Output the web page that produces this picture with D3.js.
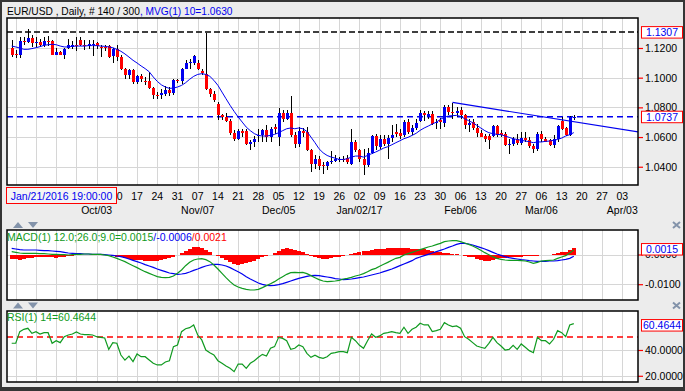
<!DOCTYPE html>
<html><head><meta charset="utf-8">
<script src="https://cdn.jsdelivr.net/npm/d3@7/dist/d3.min.js"></script>
<style>
html,body{margin:0;padding:0;background:#ececec;}
svg{display:block;font-family:"Liberation Sans",Arial,sans-serif;}
</style></head><body>
<svg id="c" width="685" height="391"></svg>
<script>
// ---------------- DATA ----------------
const firstDay = "2016-09-02";      // first trading day shown (bars are Mon-Fri)
const open = [1.1200,1.1162,1.1152,1.1247,1.1240,1.1268,1.1236,1.1241,1.1218,1.1245,
1.1245,1.1155,1.1175,1.1155,1.1200,1.1205,1.1220,1.1252,1.1223,1.1214,
1.1223,1.1234,1.1210,1.1210,1.1214,1.1144,1.1196,1.1140,1.1061,1.1016,
1.1050,1.0971,1.1012,1.0975,1.0975,1.0933,1.0885,1.0881,1.0890,1.0915,
1.0897,1.0982,1.0975,1.1061,1.1101,1.1101,1.1101,1.1045,1.1025,1.0926,
1.0892,1.0825,1.0746,1.0735,1.0710,1.0629,1.0584,1.0640,1.0638,1.0550,
1.0566,1.0610,1.0611,1.0649,1.0600,1.0667,1.0600,1.0762,1.0722,1.0760,
1.0616,1.0555,1.0640,1.0633,1.0516,1.0420,1.0453,1.0410,1.0403,1.0437,
1.0440,1.0455,1.0455,1.0460,1.0420,1.0566,1.0515,1.0453,1.0409,1.0490,
1.0605,1.0533,1.0584,1.0555,1.0595,1.0633,1.0625,1.0611,1.0701,1.0633,
1.0660,1.0705,1.0764,1.0735,1.0755,1.0695,1.0712,1.0695,1.0802,1.0768,
1.0760,1.0780,1.0746,1.0680,1.0701,1.0660,1.0629,1.0606,1.0606,1.0606,
1.0674,1.0625,1.0622,1.0550,1.0555,1.0588,1.0561,1.0593,1.0577,1.0543,
1.0518,1.0622,1.0584,1.0577,1.0548,1.0584,1.0705,1.0660,1.0616,1.0735];
const high = [1.1252,1.1185,1.1274,1.1274,1.1330,1.1286,1.1274,1.1263,1.1274,1.1281,
1.1252,1.1200,1.1182,1.1200,1.1258,1.1245,1.1274,1.1274,1.1252,1.1252,
1.1252,1.1241,1.1223,1.1223,1.1218,1.1200,1.1218,1.1151,1.1065,1.1061,
1.1061,1.1016,1.1027,1.1004,1.1038,1.0937,1.0905,1.0926,1.0944,1.0937,
1.0989,1.0993,1.1065,1.1117,1.1128,1.1151,1.1117,1.1060,1.1303,1.0930,
1.0910,1.0836,1.0757,1.0762,1.0723,1.0645,1.0651,1.0656,1.0651,1.0577,
1.0606,1.0656,1.0656,1.0678,1.0667,1.0690,1.0796,1.0780,1.0780,1.0875,
1.0633,1.0667,1.0660,1.0668,1.0521,1.0476,1.0471,1.0431,1.0442,1.0503,
1.0476,1.0465,1.0470,1.0476,1.0651,1.0577,1.0521,1.0521,1.0525,1.0615,
1.0621,1.0615,1.0615,1.0615,1.0678,1.0690,1.0656,1.0712,1.0723,1.0678,
1.0723,1.0780,1.0775,1.0775,1.0773,1.0723,1.0725,1.0813,1.0813,1.0829,
1.0802,1.0802,1.0757,1.0723,1.0723,1.0690,1.0645,1.0622,1.0622,1.0679,
1.0679,1.0645,1.0633,1.0588,1.0600,1.0622,1.0633,1.0633,1.0600,1.0555,
1.0633,1.0638,1.0600,1.0588,1.0611,1.0680,1.0735,1.0667,1.0741,1.0748];
const low = [1.1140,1.1135,1.1133,1.1222,1.1236,1.1207,1.1207,1.1207,1.1207,1.1214,
1.1151,1.1151,1.1151,1.1124,1.1196,1.1196,1.1178,1.1214,1.1184,1.1196,
1.1146,1.1196,1.1140,1.1178,1.1133,1.1101,1.1110,1.1050,1.0993,1.0993,
1.0960,1.0960,1.0971,1.0948,1.0926,1.0858,1.0858,1.0854,1.0876,1.0876,
1.0885,1.0966,1.0960,1.1056,1.1061,1.1083,1.1050,1.1020,1.0915,1.0869,
1.0836,1.0712,1.0712,1.0701,1.0615,1.0573,1.0577,1.0600,1.0545,1.0516,
1.0532,1.0566,1.0566,1.0566,1.0566,1.0622,1.0539,1.0701,1.0712,1.0600,
1.0525,1.0530,1.0600,1.0509,1.0364,1.0386,1.0375,1.0352,1.0375,1.0420,
1.0431,1.0435,1.0431,1.0420,1.0415,1.0498,1.0431,1.0342,1.0400,1.0487,
1.0510,1.0517,1.0539,1.0453,1.0570,1.0600,1.0588,1.0600,1.0622,1.0611,
1.0645,1.0701,1.0705,1.0720,1.0678,1.0656,1.0656,1.0668,1.0746,1.0723,
1.0735,1.0723,1.0656,1.0633,1.0645,1.0600,1.0600,1.0566,1.0521,1.0600,
1.0600,1.0600,1.0539,1.0487,1.0543,1.0548,1.0548,1.0566,1.0525,1.0495,
1.0505,1.0566,1.0570,1.0537,1.0525,1.0570,1.0645,1.0606,1.0606,1.0718];
const close = [1.1155,1.1151,1.1247,1.1240,1.1268,1.1236,1.1238,1.1218,1.1247,1.1241,
1.1155,1.1173,1.1155,1.1196,1.1218,1.1223,1.1218,1.1218,1.1218,1.1229,
1.1225,1.1214,1.1205,1.1202,1.1140,1.1196,1.1140,1.1061,1.1016,1.1050,
1.0971,1.1012,1.0993,1.0973,1.0933,1.0881,1.0880,1.0897,1.0915,1.0899,
1.0982,1.0975,1.1061,1.1101,1.1104,1.1144,1.1056,1.1031,1.0926,1.0892,
1.0847,1.0750,1.0735,1.0710,1.0629,1.0588,1.0638,1.0630,1.0550,1.0566,
1.0584,1.0612,1.0649,1.0600,1.0656,1.0651,1.0762,1.0722,1.0764,1.0611,
1.0555,1.0638,1.0630,1.0516,1.0420,1.0453,1.0404,1.0403,1.0431,1.0440,
1.0453,1.0455,1.0453,1.0431,1.0570,1.0510,1.0453,1.0409,1.0490,1.0605,
1.0540,1.0584,1.0555,1.0595,1.0615,1.0618,1.0606,1.0701,1.0633,1.0660,
1.0694,1.0764,1.0746,1.0755,1.0690,1.0700,1.0700,1.0802,1.0768,1.0762,
1.0777,1.0746,1.0683,1.0698,1.0660,1.0629,1.0600,1.0584,1.0577,1.0674,
1.0615,1.0616,1.0548,1.0556,1.0588,1.0561,1.0593,1.0577,1.0543,1.0518,
1.0622,1.0584,1.0570,1.0548,1.0584,1.0674,1.0656,1.0616,1.0735,1.0737];
const ma10 = [1.1213,1.1207,1.1200,1.1191,1.1191,1.1196,1.1202,1.1209,1.1218,1.1222,
1.1225,1.1222,1.1213,1.1207,1.1207,1.1211,1.1213,1.1213,1.1213,1.1216,
1.1216,1.1216,1.1213,1.1211,1.1207,1.1202,1.1191,1.1178,1.1160,1.1139,
1.1117,1.1099,1.1079,1.1061,1.1040,1.1005,1.0975,1.0952,1.0937,1.0928,
1.0930,1.0937,1.0948,1.0966,1.0989,1.1009,1.1022,1.1027,1.1022,1.1009,
1.0982,1.0948,1.0903,1.0858,1.0814,1.0773,1.0735,1.0701,1.0667,1.0643,
1.0623,1.0611,1.0607,1.0607,1.0611,1.0618,1.0629,1.0643,1.0656,1.0661,
1.0656,1.0661,1.0656,1.0638,1.0600,1.0562,1.0521,1.0494,1.0476,1.0465,
1.0458,1.0449,1.0449,1.0454,1.0465,1.0472,1.0472,1.0465,1.0476,1.0488,
1.0499,1.0512,1.0526,1.0535,1.0548,1.0562,1.0575,1.0589,1.0598,1.0611,
1.0625,1.0645,1.0661,1.0674,1.0688,1.0700,1.0719,1.0733,1.0742,1.0744,
1.0746,1.0739,1.0724,1.0710,1.0697,1.0679,1.0661,1.0643,1.0629,1.0623,
1.0618,1.0616,1.0607,1.0598,1.0589,1.0584,1.0578,1.0573,1.0569,1.0562,
1.0567,1.0567,1.0571,1.0573,1.0578,1.0584,1.0593,1.0607,1.0616,1.0630];
const macdLine = [0.00095,0.00073,0.00050,0.00039,0.00039,0.00039,0.00039,0.00028,0.00028,0.00017,
0.00006,0.00006,-0.00006,-0.00006,-0.00017,-0.00006,0.00006,0.00006,0.00017,0.00017,
0.00006,0.00006,0.00006,-0.00017,-0.00039,-0.00084,-0.00129,-0.00185,-0.00241,-0.00309,
-0.00376,-0.00443,-0.00511,-0.00578,-0.00634,-0.00690,-0.00746,-0.00769,-0.00780,-0.00769,
-0.00724,-0.00634,-0.00522,-0.00376,-0.00264,-0.00185,-0.00151,-0.00140,-0.00174,-0.00241,
-0.00353,-0.00488,-0.00634,-0.00780,-0.00914,-0.01027,-0.01094,-0.01139,-0.01172,-0.01195,
-0.01195,-0.01172,-0.01116,-0.01049,-0.00982,-0.00914,-0.00825,-0.00746,-0.00668,-0.00611,
-0.00600,-0.00611,-0.00600,-0.00645,-0.00712,-0.00780,-0.00847,-0.00892,-0.00914,-0.00903,
-0.00892,-0.00870,-0.00825,-0.00802,-0.00769,-0.00724,-0.00690,-0.00645,-0.00578,-0.00511,
-0.00466,-0.00398,-0.00331,-0.00264,-0.00196,-0.00129,-0.00095,-0.00017,0.00028,0.00073,
0.00118,0.00163,0.00208,0.00252,0.00286,0.00331,0.00376,0.00432,0.00454,0.00466,
0.00466,0.00432,0.00387,0.00342,0.00286,0.00219,0.00140,0.00062,-0.00006,-0.00073,
-0.00129,-0.00163,-0.00185,-0.00196,-0.00196,-0.00196,-0.00208,-0.00219,-0.00252,-0.00297,
-0.00264,-0.00219,-0.00208,-0.00196,-0.00185,-0.00129,-0.00084,-0.00039,0.00050,0.00150];
const signalLine = [0.00208,0.00185,0.00163,0.00151,0.00151,0.00151,0.00151,0.00140,0.00129,0.00129,
0.00118,0.00107,0.00095,0.00073,0.00050,0.00039,0.00028,0.00028,0.00017,0.00017,
0.00006,0.00006,0.00006,-0.00006,-0.00017,-0.00028,-0.00050,-0.00073,-0.00107,-0.00151,
-0.00196,-0.00241,-0.00286,-0.00342,-0.00387,-0.00432,-0.00488,-0.00533,-0.00578,-0.00623,
-0.00645,-0.00668,-0.00656,-0.00634,-0.00589,-0.00533,-0.00488,-0.00432,-0.00387,-0.00353,
-0.00331,-0.00331,-0.00353,-0.00387,-0.00443,-0.00511,-0.00578,-0.00656,-0.00746,-0.00825,
-0.00892,-0.00959,-0.01004,-0.01038,-0.01049,-0.01038,-0.01015,-0.00982,-0.00937,-0.00892,
-0.00847,-0.00802,-0.00769,-0.00735,-0.00712,-0.00701,-0.00712,-0.00735,-0.00757,-0.00780,
-0.00813,-0.00825,-0.00847,-0.00836,-0.00825,-0.00802,-0.00780,-0.00757,-0.00724,-0.00690,
-0.00656,-0.00623,-0.00578,-0.00533,-0.00488,-0.00432,-0.00376,-0.00320,-0.00264,-0.00208,
-0.00129,-0.00084,-0.00039,0.00006,0.00050,0.00095,0.00140,0.00185,0.00241,0.00286,
0.00342,0.00376,0.00376,0.00353,0.00320,0.00275,0.00230,0.00185,0.00129,0.00073,
0.00017,-0.00028,-0.00073,-0.00107,-0.00129,-0.00151,-0.00174,-0.00185,-0.00208,-0.00219,
-0.00230,-0.00230,-0.00230,-0.00219,-0.00219,-0.00208,-0.00185,-0.00163,-0.00129,-0.00060];
const macdHist = [-0.0014,-0.0016,-0.0017,-0.0015,-0.0013,-0.0011,-0.0009,-0.0008,-0.0007,-0.0009,
-0.0010,-0.0011,-0.0010,-0.0008,-0.0006,-0.0004,-0.0003,-0.0002,-0.0002,-0.0001,
-0.0001,-0.0001,-0.0002,-0.0002,-0.0003,-0.0005,-0.0007,-0.0009,-0.0012,-0.0015,
-0.0017,-0.0019,-0.0020,-0.0021,-0.0022,-0.0022,-0.0021,-0.0018,-0.0015,-0.0012,
-0.0008,-0.0002,0.0006,0.0013,0.0020,0.0024,0.0025,0.0022,0.0016,0.0010,
0.0000,-0.0006,-0.0013,-0.0018,-0.0026,-0.0032,-0.0035,-0.0033,-0.0030,-0.0026,
-0.0022,-0.0016,-0.0010,-0.0005,0.0000,0.0006,0.0012,0.0018,0.0023,0.0020,
0.0016,0.0012,0.0008,0.0002,-0.0004,-0.0008,-0.0012,-0.0014,-0.0015,-0.0013,
-0.0010,-0.0008,-0.0004,-0.0001,0.0002,0.0005,0.0008,0.0011,0.0013,0.0015,
0.0017,0.0019,0.0020,0.0021,0.0022,0.0022,0.0021,0.0022,0.0021,0.0020,
0.0019,0.0018,0.0017,0.0014,0.0011,0.0009,0.0007,0.0006,0.0004,0.0002,
0.0001,-0.0003,-0.0006,-0.0008,-0.0010,-0.0014,-0.0018,-0.0021,-0.0022,-0.0019,
-0.0016,-0.0013,-0.0011,-0.0010,-0.0009,-0.0008,-0.0007,-0.0006,-0.0006,-0.0006,
-0.0004,-0.0002,-0.0001,0.0000,0.0003,0.0006,0.0008,0.0010,0.0014,0.0021];
const rsi = [45.2,45.2,54.2,56.0,56.8,52.9,54.2,52.4,53.4,53.4,
45.2,47.2,45.7,50.3,51.6,52.4,54.0,52.4,51.9,51.9,
51.6,50.3,49.8,49.3,40.5,45.7,45.2,36.1,32.2,35.3,
31.0,36.9,34.8,34.8,32.2,29.7,28.4,28.4,30.7,31.7,
42.6,43.9,54.2,56.5,57.3,59.4,51.6,47.8,40.0,37.9,
36.1,31.7,29.7,27.6,25.8,23.2,29.1,29.1,25.8,29.7,
31.7,34.3,36.6,35.3,41.3,42.6,49.8,49.0,47.2,40.5,
41.3,43.9,42.6,37.4,34.3,35.9,34.3,33.5,34.8,37.4,
37.9,38.7,38.7,37.9,49.8,47.2,43.6,41.3,47.2,52.4,
49.8,50.9,52.9,53.4,54.2,53.4,52.9,57.6,52.9,56.0,
57.6,60.7,59.4,59.4,54.2,55.0,56.0,61.2,59.4,58.1,
58.6,56.8,50.3,48.3,45.7,43.1,42.1,41.3,45.2,49.8,
45.7,43.1,40.0,40.5,43.6,40.5,44.7,42.1,39.5,37.9,
49.8,47.2,47.2,44.7,48.3,55.0,53.4,50.3,59.4,60.4644];
const trendIdx = [109, 155];          // trend line: bar index of its two ends
const trendVal = [1.0833, 1.0635];
const resistanceLevel = 1.1307;
const lastPrice = 1.0737;
const priceTicks = [1.04, 1.06, 1.08, 1.10, 1.12];
const macdTicks = [0, -0.01];
const rsiTicks = [20, 40];
const rsiLevel = 50;
const monthTickDates = ["2016-10-03","2016-11-07","2016-12-05","2017-01-02","2017-02-06","2017-03-06","2017-04-03"];
const monthTickLabels = ["Oct/03","Nov/07","Dec/05","Jan/02/17","Feb/06","Mar/06","Apr/03"];
const headerMain = "EUR/USD , Daily, # 140 / 300";
const headerMa = ", MVG(1) 10=1.0630";
const cursorLabel = "Jan/21/2016 19:00:00";

// ---------------- LAYOUT ----------------
const W = 685, H = 391;
const L = 7, R = 638;
const FONT = "'Liberation Sans', Arial, sans-serif";
const FS = "10.5px";
const BLUE = "#0000f0", RED = "#ff0000", GREEN = "#109a20";
const svg = d3.select("#c");
svg.append("rect").attr("width", W).attr("height", H).attr("fill", "#ececec");

const parse = d3.timeParse("%Y-%m-%d");
const fmtKey = d3.timeFormat("%Y-%m-%d");
const days = d3.timeDay.range(parse(firstDay), parse("2017-04-25"))
  .filter(d => d.getDay() !== 0 && d.getDay() !== 6);
const idx = d3.range(close.length);

const x = d3.scaleLinear().domain([0, 139]).range([11.7, 573.8]);
const mondays = days.map((d, i) => ({d, i})).filter(o => o.d.getDay() === 1 && x(o.i) < R);

const yP = d3.scaleLinear().domain([1.0277, 1.1402]).range([185, 18]);
const yM = d3.scaleLinear().domain([-0.01532, 0.00825]).range([300, 230]);
const yR = d3.scaleLinear().domain([15.2, 70.2]).range([382, 311]);

let clipN = 0;
function panel(top, bottom, yScale, ticks) {
  svg.append("rect").attr("x", L).attr("y", top).attr("width", R - L).attr("height", bottom - top).attr("fill", "#fff");
  const id = "clip" + (clipN++);
  svg.append("clipPath").attr("id", id).append("rect").attr("x", L).attr("y", top).attr("width", R - L).attr("height", bottom - top);
  const g = svg.append("g").attr("clip-path", `url(#${id})`);
  g.append("g").selectAll("line").data(mondays).join("line")
    .attr("x1", o => Math.round(x(o.i)) + 0.5).attr("x2", o => Math.round(x(o.i)) + 0.5)
    .attr("y1", top).attr("y2", bottom).attr("stroke", "#d6d6d6").attr("stroke-width", 1);
  g.append("g").selectAll("line").data(ticks).join("line")
    .attr("x1", L).attr("x2", R)
    .attr("y1", v => Math.round(yScale(v)) + 0.5).attr("y2", v => Math.round(yScale(v)) + 0.5)
    .attr("stroke", "#d6d6d6").attr("stroke-width", 1);
  const ax = svg.append("g").attr("transform", `translate(${R},0)`)
    .call(d3.axisRight(yScale).tickValues(ticks).tickSize(5).tickPadding(2).tickFormat(v => v.toFixed(4)));
  ax.select(".domain").remove();
  ax.selectAll(".tick line").attr("stroke", RED).attr("stroke-width", 1.2);
  ax.selectAll(".tick text").attr("fill", "#000").style("font-size", FS).style("font-family", FONT);
  return g;
}
function frame(top, bottom) {
  svg.append("rect").attr("x", L).attr("y", top).attr("width", R - L).attr("height", bottom - top)
    .attr("fill", "none").attr("stroke", "#000").attr("stroke-width", 1.5);
}
function valueBox(yc, label) {
  svg.append("rect").attr("x", 641.5).attr("y", yc - 5.5).attr("width", 41).attr("height", 11.5)
    .attr("fill", "#fff").attr("stroke", RED).attr("stroke-width", 1);
  svg.append("text").attr("x", 662).attr("y", yc + 4).attr("text-anchor", "middle")
    .attr("fill", BLUE).style("font-size", FS).style("font-family", FONT).text(label);
}

// ---------------- MAIN PANEL ----------------
const gP = panel(18, 185, yP, priceTicks);
gP.append("line").attr("x1", L).attr("x2", R).attr("y1", yP(resistanceLevel)).attr("y2", yP(resistanceLevel))
  .attr("stroke", "#000").attr("stroke-width", 1.5).attr("stroke-dasharray", "6,3");
gP.append("line").attr("x1", L).attr("x2", R).attr("y1", yP(lastPrice)).attr("y2", yP(lastPrice))
  .attr("stroke", BLUE).attr("stroke-width", 1.5).attr("stroke-dasharray", "6,4");
// candles
const cg = gP.append("g").attr("shape-rendering", "crispEdges");
cg.selectAll("line").data(idx).join("line")
  .attr("x1", i => Math.round(x(i)) + 0.5).attr("x2", i => Math.round(x(i)) + 0.5)
  .attr("y1", i => yP(high[i])).attr("y2", i => yP(low[i])).attr("stroke", "#000").attr("stroke-width", 1);
cg.selectAll("rect").data(idx).join("rect")
  .attr("x", i => Math.round(x(i)) - 1).attr("width", 3)
  .attr("y", i => yP(Math.max(open[i], close[i])))
  .attr("height", i => Math.max(1, Math.abs(yP(open[i]) - yP(close[i]))))
  .attr("fill", i => close[i] >= open[i] ? BLUE : RED);
// moving average
gP.append("path").datum(idx).attr("fill", "none").attr("stroke", BLUE).attr("stroke-width", 1)
  .attr("d", d3.line().x(i => x(i)).y(i => yP(ma10[i])));
// trend line
gP.append("path").datum([0, 1]).attr("fill", "none").attr("stroke", BLUE).attr("stroke-width", 1.2)
  .attr("d", d3.line().x(k => x(trendIdx[k])).y(k => yP(trendVal[k])));
frame(18, 185);
valueBox(yP(resistanceLevel), resistanceLevel.toFixed(4));
valueBox(yP(lastPrice), lastPrice.toFixed(4));

// header
const hdr = svg.append("text").attr("x", 7).attr("y", 15).style("font-size", "10.2px").style("font-family", FONT);
hdr.append("tspan").attr("fill", "#000").text(headerMain);
hdr.append("tspan").attr("fill", BLUE).text(headerMa);

// x-axis labels (the cursor-date box covers the first weeks)
const boxRight = 116.5;
svg.append("clipPath").attr("id", "xlabClip").append("rect")
  .attr("x", boxRight).attr("y", 185).attr("width", W - boxRight).attr("height", 35);
svg.append("g").attr("clip-path", "url(#xlabClip)").selectAll("text")
  .data(mondays.filter(o => x(o.i) > boxRight - 6)).join("text")
  .attr("x", o => x(o.i)).attr("y", 200).attr("text-anchor", "middle")
  .style("font-size", FS).style("font-family", FONT).attr("fill", "#000")
  .text(o => d3.timeFormat("%d")(o.d));
const keyIndex = new Map(days.map((d, i) => [fmtKey(d), i]));
svg.append("g").selectAll("text").data(monthTickDates).join("text")
  .attr("x", s => x(keyIndex.get(s))).attr("y", 214).attr("text-anchor", "middle")
  .style("font-size", FS).style("font-family", FONT).attr("fill", "#000")
  .text((s, k) => monthTickLabels[k]);
svg.append("rect").attr("x", 6.5).attr("y", 187.5).attr("width", boxRight - 6.5).attr("height", 16)
  .attr("fill", "#f4f4f4").attr("stroke", RED).attr("stroke-width", 1);
svg.append("text").attr("x", 61.5).attr("y", 199.5).attr("text-anchor", "middle")
  .style("font-size", FS).style("font-family", FONT).attr("fill", BLUE).text(cursorLabel);

// ---------------- MACD PANEL ----------------
const gM = panel(230, 300, yM, macdTicks);
gM.append("g").attr("shape-rendering", "crispEdges").selectAll("rect").data(idx).join("rect")
  .attr("x", i => Math.round(x(i)) - 2).attr("width", 4)
  .attr("y", i => Math.min(yM(0), yM(macdHist[i])))
  .attr("height", i => Math.abs(yM(macdHist[i]) - yM(0)))
  .attr("fill", RED);
gM.append("path").datum(idx).attr("fill", "none").attr("stroke", BLUE).attr("stroke-width", 1.2)
  .attr("d", d3.line().x(i => x(i)).y(i => yM(signalLine[i])));
gM.append("path").datum(idx).attr("fill", "none").attr("stroke", GREEN).attr("stroke-width", 1.2)
  .attr("d", d3.line().x(i => x(i)).y(i => yM(macdLine[i])));
frame(230, 300);
const last = close.length - 1;
valueBox(yM(macdLine[last]) - 1, macdLine[last].toFixed(4));
const mt = svg.append("text").attr("x", 7).attr("y", 241).style("font-size", FS).style("font-family", FONT);
mt.append("tspan").attr("fill", GREEN).text("MACD(1) 12.0;26.0;9.0=" + macdLine[last].toFixed(4));
mt.append("tspan").attr("fill", BLUE).text("/" + signalLine[last].toFixed(4));
mt.append("tspan").attr("fill", RED).text("/" + macdHist[last].toFixed(4));

// ---------------- RSI PANEL ----------------
const gR = panel(311, 382, yR, rsiTicks);
gR.append("line").attr("x1", L).attr("x2", R).attr("y1", yR(rsiLevel)).attr("y2", yR(rsiLevel))
  .attr("stroke", RED).attr("stroke-width", 1.5).attr("stroke-dasharray", "6,4");
gR.append("path").datum(idx).attr("fill", "none").attr("stroke", GREEN).attr("stroke-width", 1.2)
  .attr("d", d3.line().x(i => x(i)).y(i => yR(rsi[i])));
frame(311, 382);
valueBox(yR(rsi[last]) + 1.5, rsi[last].toFixed(4));
svg.append("text").attr("x", 7).attr("y", 321).style("font-size", FS).style("font-family", FONT)
  .attr("fill", GREEN).text("RSI(1) 14=" + rsi[last].toFixed(4));

// ---------------- decorations ----------------
function arrows(yTop) {
  const c = "#8393aa";
  svg.append("path").attr("d", `M13,${yTop + 6}L18,${yTop}L23,${yTop + 6}Z`).attr("fill", c);
  svg.append("path").attr("d", `M28,${yTop}L38,${yTop}L33,${yTop + 6}Z`).attr("fill", c);
  svg.append("path").attr("d", `M673,${yTop}L680,${yTop + 6}M680,${yTop}L673,${yTop + 6}`)
    .attr("stroke", c).attr("stroke-width", 2);
}
arrows(222);
arrows(302.5);
const bc = "#353535";
svg.append("rect").attr("x", 0).attr("y", 0).attr("width", W).attr("height", 2).attr("fill", bc);
svg.append("rect").attr("x", 0).attr("y", 0).attr("width", 2).attr("height", H).attr("fill", bc);
svg.append("rect").attr("x", W - 2).attr("y", 0).attr("width", 2).attr("height", H).attr("fill", bc);
svg.append("rect").attr("x", 0).attr("y", H - 4).attr("width", W).attr("height", 4).attr("fill", bc);
</script>
</body></html>
